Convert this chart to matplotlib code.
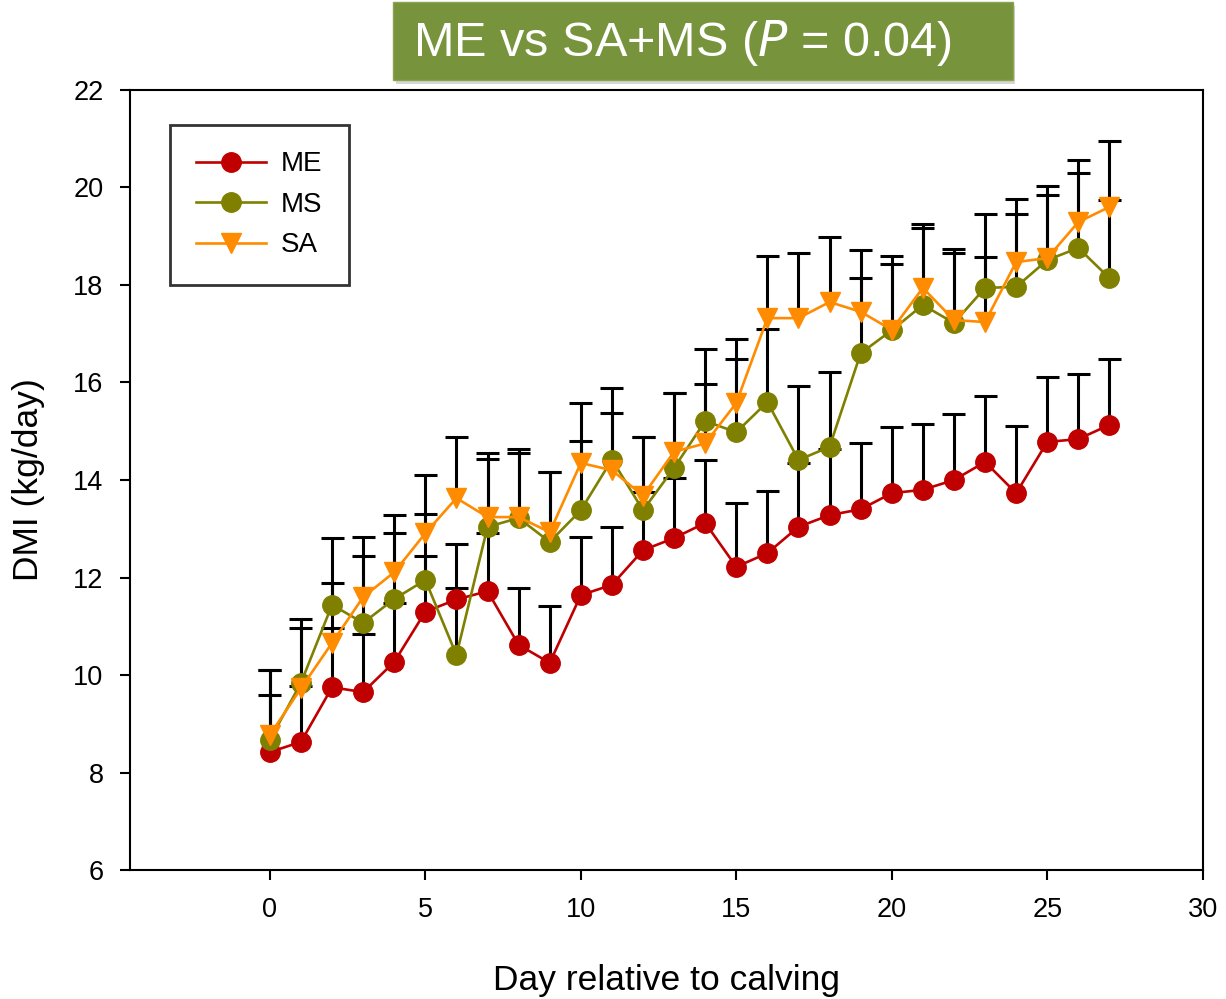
import numpy as np
import matplotlib.pyplot as plt
from matplotlib.patches import Rectangle
from matplotlib.lines import Line2D

plt.rcParams['font.family'] = ['Liberation Sans', 'DejaVu Sans']

days = list(range(28))

me_mean = [8.42, 8.63, 9.75, 9.65, 10.27, 11.30, 11.55, 11.72, 10.62, 10.25,
           11.64, 11.85, 12.56, 12.81, 13.12, 12.22, 12.50, 13.04, 13.28, 13.40,
           13.73, 13.80, 14.00, 14.37, 13.73, 14.78, 14.84, 15.13]
me_se = [1.18, 1.15, 1.21, 1.19, 1.21, 1.14, 1.14, 1.19, 1.16, 1.17,
         1.19, 1.19, 1.20, 1.23, 1.29, 1.31, 1.27, 1.31, 1.35, 1.36,
         1.36, 1.35, 1.35, 1.35, 1.38, 1.33, 1.33, 1.35]

ms_mean = [8.67, 9.84, 11.44, 11.07, 11.56, 11.95, 10.41, 13.04, 13.22, 12.73,
           13.38, 14.42, 13.38, 14.25, 15.21, 14.98, 15.60, 14.41, 14.68, 16.60,
           17.07, 17.59, 17.22, 17.94, 17.96, 18.51, 18.76, 18.14]
ms_se = [1.43, 1.30, 1.38, 1.37, 1.35, 1.35, 1.37, 1.39, 1.33, 1.43,
         1.41, 1.47, 1.50, 1.53, 1.47, 1.50, 1.50, 1.52, 1.54, 1.54,
         1.53, 1.58, 1.52, 1.52, 1.50, 1.52, 1.54, 1.60]

sa_mean = [8.77, 9.73, 10.66, 11.60, 12.11, 12.91, 13.63, 13.24, 13.24, 12.93,
           14.35, 14.20, 13.68, 14.58, 14.75, 15.58, 17.32, 17.32, 17.65, 17.45,
           17.08, 17.94, 17.28, 17.24, 18.47, 18.55, 19.29, 19.60]
sa_se = [1.33, 1.23, 1.23, 1.23, 1.17, 1.19, 1.25, 1.31, 1.40, 1.23,
         1.23, 1.17, 1.20, 1.20, 1.22, 1.31, 1.28, 1.33, 1.33, 1.27,
         1.35, 1.31, 1.38, 1.34, 1.29, 1.30, 1.27, 1.35]

series = [("ME", me_mean, me_se, "#C00000", "o"),
          ("MS", ms_mean, ms_se, "#808000", "o"),
          ("SA", sa_mean, sa_se, "#FF8C00", "v")]

fig = plt.figure(figsize=(12.26, 9.99), dpi=100)
ax = fig.add_axes([0.106, 0.129, 0.875, 0.781])

# upper error bars only (SigmaPlot style)
x = np.array(days)
cap = 0.37
for name, mean, se, color, marker in series:
    top = np.array(mean) + np.array(se)
    ax.vlines(x, mean, top, color="black", linewidth=2.2, zorder=2)
    ax.hlines(top, x - cap, x + cap, color="black", linewidth=2.2, zorder=2)

handles = []
for name, mean, se, color, marker in series:
    ms = 14 if marker == "o" else 15
    ax.plot(days, mean, color=color, linewidth=1.9, marker=marker,
            markersize=ms, markeredgecolor=color, zorder=3)
    handles.append(Line2D([0], [0], color=color, linewidth=1.9, marker=marker,
                          markersize=ms, markeredgecolor=color, label=name))

ax.set_xlim(-4.5, 30)
ax.set_ylim(6, 22)
ax.set_xticks(range(0, 31, 5))
ax.set_yticks(range(6, 23, 2))
ax.tick_params(direction="out", length=7, width=1.5, labelsize=19.5, pad=12)
for sp in ax.spines.values():
    sp.set_linewidth(1.5)
ax.set_xlabel("Day relative to calving", fontsize=25.5, labelpad=30)
ax.set_ylabel("DMI (kg/day)", fontsize=25.5, labelpad=20)

leg = ax.legend(handles=handles, loc="upper left", bbox_to_anchor=(0.0373, 0.955),
                borderaxespad=0, fontsize=20, frameon=True, fancybox=False,
                edgecolor="black", handlelength=2.5, handletextpad=0.55,
                borderpad=0.95, labelspacing=0.52)
leg.get_frame().set_linewidth(2)

# green title banner
fig.patches.append(Rectangle((0.3226, 0.916), 0.5057, 0.078,
                             transform=fig.transFigure, facecolor="#b0b0b0",
                             edgecolor="none", alpha=0.5, zorder=1))
fig.patches.append(Rectangle((0.3206, 0.92), 0.5057, 0.078,
                             transform=fig.transFigure, facecolor="#77933C",
                             edgecolor="#8aa550", linewidth=1, zorder=2))
fig.text(0.337, 0.957, r"ME vs SA+MS ($\mathit{P}$ = 0.04)", color="white",
         fontsize=35, va="center", ha="left", zorder=3)

fig.savefig("out.png", dpi=100)
